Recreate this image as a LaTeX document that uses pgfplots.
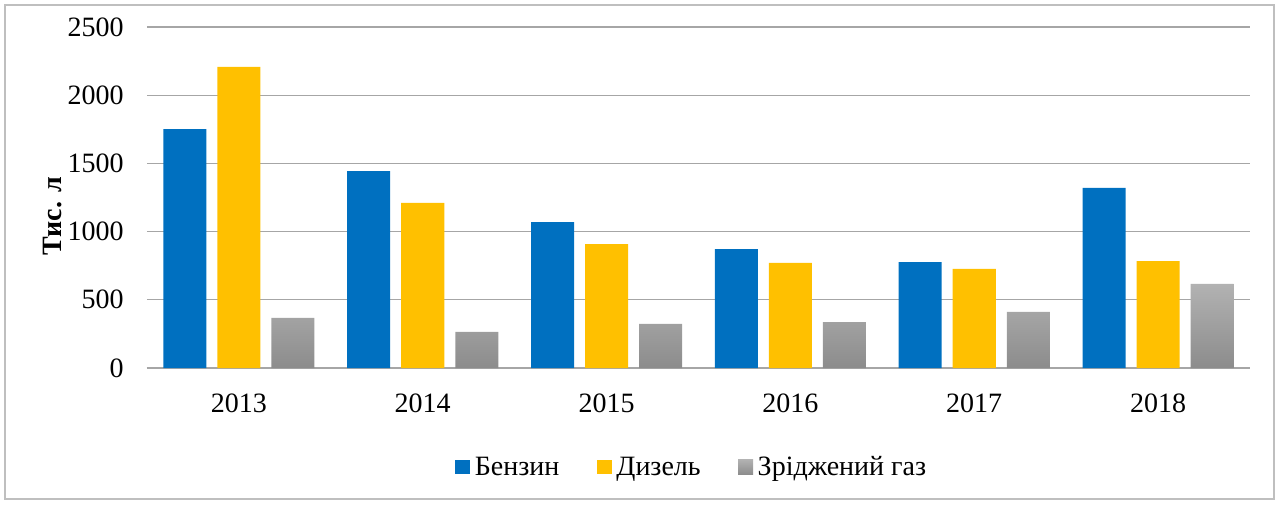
\documentclass[border=0pt]{standalone}
\usepackage{pgfplots}
\pgfplotsset{compat=1.18}
\usepackage{fontspec}
\setmainfont{Liberation Serif}
\definecolor{cBlue}{HTML}{0070C0}
\definecolor{cYel}{HTML}{FFC000}
\definecolor{cGrT}{HTML}{B2B2B2}
\definecolor{cGrB}{HTML}{8C8C8C}
\definecolor{cGrid}{HTML}{A6A6A6}
\definecolor{cFrame}{HTML}{BFBFBF}
\begin{document}
\begin{tikzpicture}[x=1pt,y=1pt,font=\fontsize{21}{25}\selectfont]
\def\px{0.75}
% bounding box = whole image
\path (-147*\px,-136*\px) rectangle (1132*\px,368*\px);
\draw[cFrame,line width=1.1pt] (-142*\px,-131*\px) rectangle (1127*\px,363*\px);
\begin{axis}[
  at={(0,0)}, anchor=south west,
  scale only axis,
  width=827.25pt, height=255.75pt,
  ybar,
  xmin=-0.5, xmax=5.5,
  ymin=0, ymax=2500,
  ytick={0,500,1000,1500,2000,2500},
  xtick={0,1,2,3,4,5},
  xticklabels={2013,2014,2015,2016,2017,2018},
  /pgf/number format/assume math mode=true,
  /pgf/number format/1000 sep={},
  tick style={draw=none},
  axis line style={draw=none},
  ymajorgrids,
  grid style={cGrid,line width=1pt},
  yticklabel style={xshift=-14pt},
  xticklabel style={yshift=-11.5pt},
  bar width=0.234,
  legend columns=3,
  legend style={draw=none, fill=none, at={(545*\px pt,-99*\px pt)}, anchor=center,
    /tikz/every even column/.append style={column sep=26pt},
    /tikz/every odd column/.append style={column sep=1.5pt},
    font=\fontsize{21}{25}\selectfont},
  legend image code/.code={\path[#1] (0pt,-5.6pt) rectangle (11.25pt,5.6pt);},
  clip=false,
]
\draw[cGrid,line width=1pt] (axis cs:-0.5,0) -- (axis cs:5.5,0);
\addplot[fill=cBlue,draw=none,bar shift=-0.294] coordinates {(0,1752) (1,1444) (2,1070) (3,872) (4,777) (5,1320)};
\addplot[fill=cYel,draw=none,bar shift=0] coordinates {(0,2207) (1,1210) (2,909) (3,770) (4,726) (5,784)};
\addplot[top color=cGrT,bottom color=cGrB,draw=none,bar shift=0.294] coordinates {(0,367) (1,264) (2,323) (3,337) (4,411) (5,616)};
\legend{Бензин,Дизель,Зріджений газ}
\end{axis}
\node[rotate=90,font=\fontsize{21}{25}\selectfont\bfseries] at (-94*\px,152*\px) {Тис. л};
\end{tikzpicture}
\end{document}
